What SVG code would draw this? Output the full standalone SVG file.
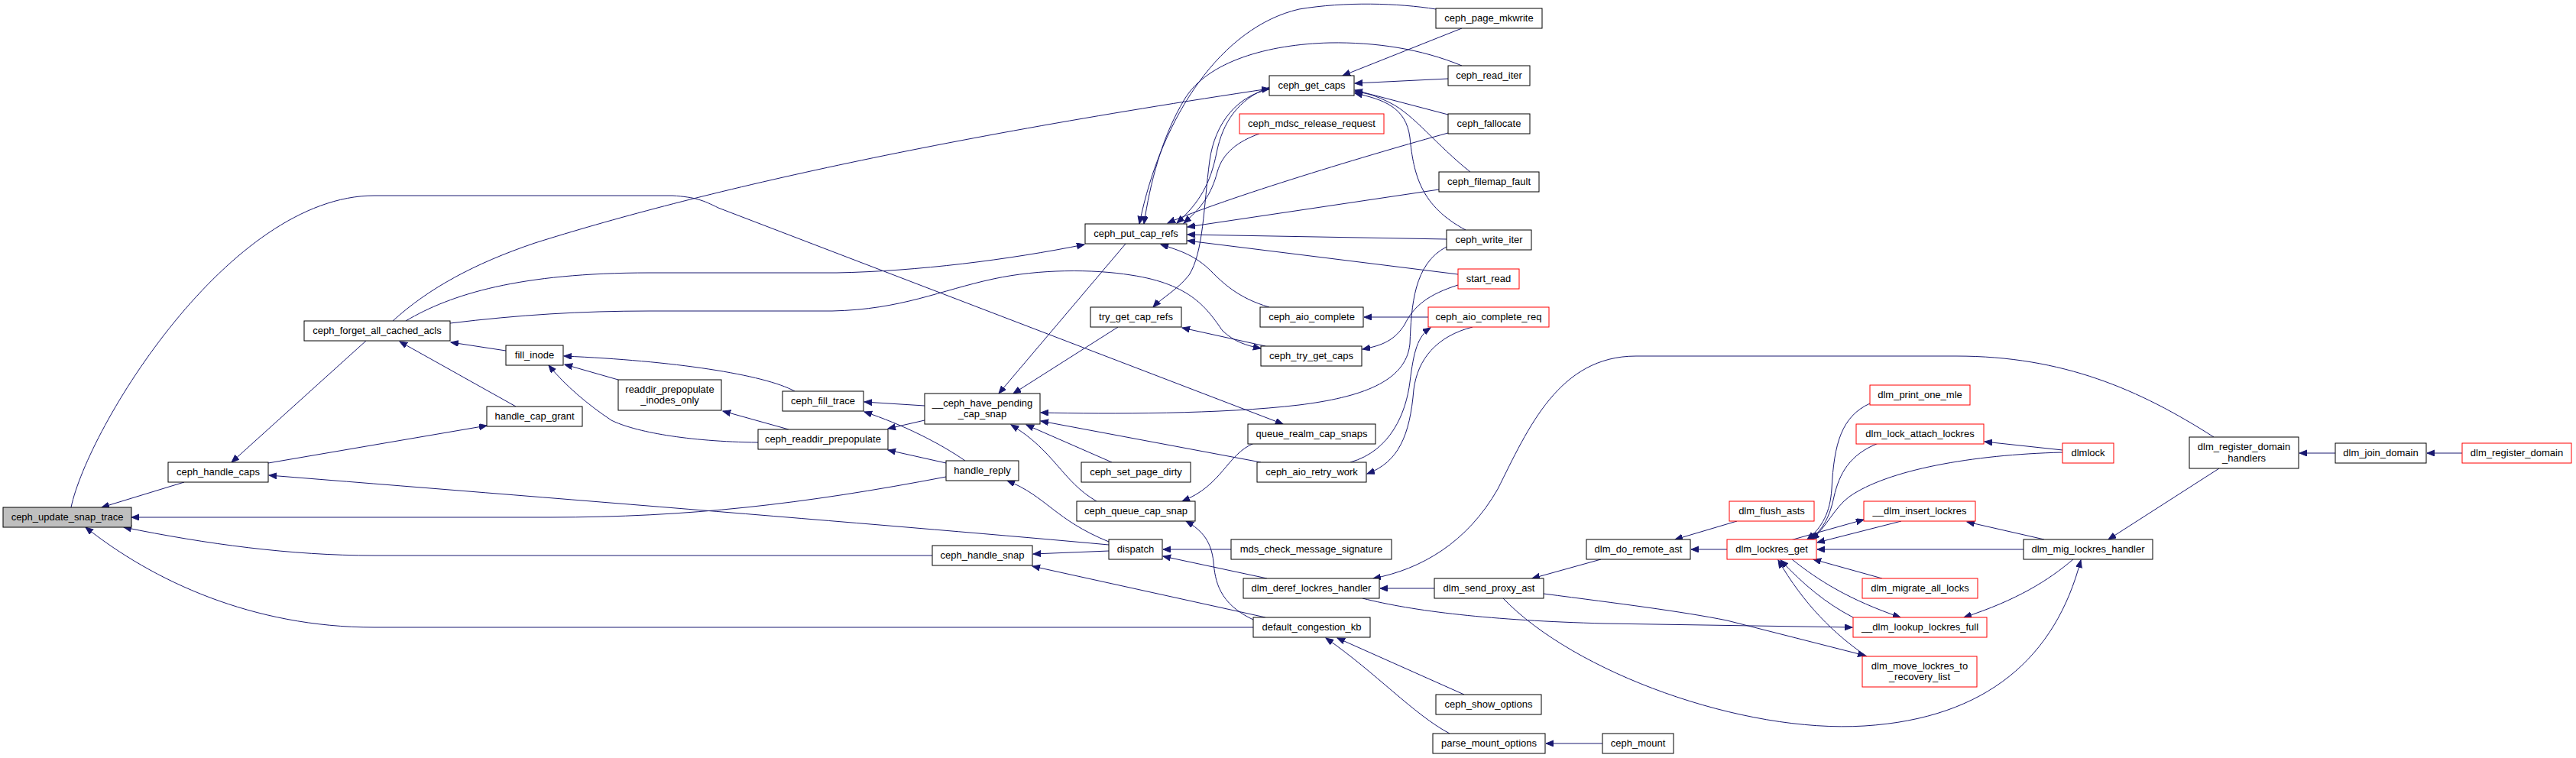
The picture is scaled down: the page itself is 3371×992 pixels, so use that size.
<svg xmlns="http://www.w3.org/2000/svg" width="3371" height="992" viewBox="0 0 3371 992">
<style>
.n rect{fill:#fff;stroke:#000;stroke-width:1}
.n.r rect{stroke:#f00}
.n.m rect{fill:#bfbfbf}
.n text{font-family:"Liberation Sans",Arial,Helvetica,sans-serif;font-size:13px;text-anchor:middle;fill:#000}
#edges path{fill:none;stroke:#191970;stroke-width:1;marker-end:url(#a)}
</style>
<defs>
<marker id="a" markerUnits="userSpaceOnUse" markerWidth="11" markerHeight="9" refX="10" refY="4" orient="auto">
<path d="M0,0 L10,4 L0,8 z" fill="#191970" stroke="#191970" stroke-width="1"/>
</marker>
</defs>
<rect width="3371" height="992" fill="#fff"/>
<g id="edges">
<path d="M241,631 L133,664"/>
<path d="M1238,624 C1050,660 900,677 720,677 L172,677"/>
<path d="M1220,727 L490,727 C380,727 270,712 162,690"/>
<path d="M1640,821 L490,821 C330,821 200,760 112,690"/>
<path d="M93,664 C115,560 300,256 490,256 L880,256 C910,258 920,262 940,272 L1679,555"/>
<path d="M479,446 L303,605"/>
<path d="M351,606 L637,557"/>
<path d="M1451,713 C1200,690 700,650 352,622"/>
<path d="M675,532 L523,447"/>
<path d="M662,459 L590,448"/>
<path d="M1040,512 C1000,490 880,472 738,466"/>
<path d="M809,497 L739,477"/>
<path d="M992,579 C900,578 830,565 800,550 C770,530 740,505 718,478"/>
<path d="M1032,562 L946,538"/>
<path d="M1210,531 L1131,526"/>
<path d="M1263,603 C1230,580 1180,555 1131,539"/>
<path d="M1210,550 L1162,561"/>
<path d="M1238,606 L1162,589"/>
<path d="M1451,709 C1380,680 1370,650 1318,629"/>
<path d="M1451,721 L1352,725"/>
<path d="M1656,808 L1351,741"/>
<path d="M1473,319 L1307,515"/>
<path d="M1463,428 L1326,515"/>
<path d="M1893,323 C1850,345 1847,400 1845,450 C1840,500 1780,520 1700,530 C1600,542 1450,542 1362,540"/>
<path d="M1650,605 L1362,551"/>
<path d="M1435,656 C1390,630 1380,590 1323,556"/>
<path d="M1455,605 L1343,556"/>
<path d="M1641,580 C1605,595 1600,635 1547,656"/>
<path d="M1640,811 C1595,790 1590,760 1588,735 C1585,710 1575,695 1552,682"/>
<path d="M1611,719 L1522,719"/>
<path d="M1658,757 L1522,728"/>
<path d="M514,420 C560,378 620,345 700,318 C900,255 1200,185 1661,116"/>
<path d="M531,420 C590,385 680,357 850,357 L1095,357 C1200,355 1320,340 1419,320"/>
<path d="M589,423 C680,412 760,407 850,407 L1089,407 C1180,405 1230,380 1300,365 C1360,352 1430,352 1480,360 C1560,372 1580,405 1600,433 C1615,447 1630,452 1650,456"/>
<path d="M1879,12 C1830,4 1760,2 1700,12 C1600,35 1520,150 1491,293"/>
<path d="M1913,86 C1860,64 1800,55 1740,56 C1660,58 1580,80 1550,130 C1520,180 1505,240 1497,293"/>
<path d="M1661,114 C1620,130 1600,160 1592,200 C1584,240 1570,265 1540,292"/>
<path d="M1648,175 C1620,185 1600,200 1593,225 C1585,255 1572,272 1549,292"/>
<path d="M1661,117 C1620,125 1590,160 1583,210 C1575,270 1575,330 1556,360 C1540,380 1520,390 1509,402"/>
<path d="M1895,174 C1800,200 1600,260 1528,292"/>
<path d="M1883,248 L1554,297"/>
<path d="M1893,313 L1554,307"/>
<path d="M1908,359 L1554,315"/>
<path d="M1661,402 C1620,390 1600,370 1585,355 C1565,335 1545,328 1519,320"/>
<path d="M1913,37 L1757,99"/>
<path d="M1895,103 L1773,109"/>
<path d="M1895,150 L1773,118"/>
<path d="M1924,225 C1880,190 1850,150 1820,135 C1800,125 1790,122 1773,120"/>
<path d="M1918,301 C1860,270 1850,230 1845,180 C1840,140 1810,130 1773,122"/>
<path d="M1869,415 L1785,415"/>
<path d="M1908,373 C1870,385 1850,400 1838,425 C1825,445 1810,452 1783,457"/>
<path d="M1767,605 C1820,590 1840,540 1845,500 C1850,460 1855,440 1872,429"/>
<path d="M1927,428 C1880,440 1855,470 1850,510 C1845,570 1830,605 1789,620"/>
<path d="M1656,453 L1547,429"/>
<path d="M2897,572 C2800,510 2700,466 2560,466 L2141,466 C2040,466 2000,560 1960,640 C1920,710 1860,745 1797,757"/>
<path d="M1877,770 L1806,770"/>
<path d="M1783,783 C1850,800 1950,812 2100,816 L2424,821"/>
<path d="M1916,909 L1750,835"/>
<path d="M1897,960 C1850,935 1800,880 1735,835"/>
<path d="M2097,973 L2023,973"/>
<path d="M2095,732 L2005,757"/>
<path d="M2020,777 C2120,790 2200,800 2260,812 L2441,858"/>
<path d="M1967,783 C2060,880 2280,960 2440,950 C2600,940 2690,860 2723,733"/>
<path d="M2260,719 L2213,719"/>
<path d="M2273,682 L2192,706"/>
<path d="M2447,528 C2410,545 2400,580 2397,640 C2395,670 2385,690 2365,706"/>
<path d="M2458,580 C2420,595 2407,620 2400,650 C2395,675 2385,695 2368,706"/>
<path d="M2699,592 C2580,595 2470,615 2420,650 C2400,665 2390,690 2371,706"/>
<path d="M2343,707 L2439,680"/>
<path d="M2488,682 L2378,710"/>
<path d="M2648,719 L2378,719"/>
<path d="M2463,757 L2373,732"/>
<path d="M2345,732 C2380,760 2420,785 2487,808"/>
<path d="M2425,808 C2390,790 2360,765 2330,733"/>
<path d="M2443,859 C2400,830 2360,790 2327,733"/>
<path d="M2699,589 L2597,578"/>
<path d="M2675,706 L2574,683"/>
<path d="M2713,732 C2680,760 2640,785 2570,808"/>
<path d="M2904,613 L2759,706"/>
<path d="M3056,593 L3009,593"/>
<path d="M3222,593 L3176,593"/>
</g>
<g id="n_ceph_update_snap_trace" class="n m"><rect x="4" y="664" width="168" height="26"/><text x="88" y="681">ceph_update_snap_trace</text></g>
<g id="n_ceph_handle_caps" class="n"><rect x="220" y="605" width="131" height="26"/><text x="285.5" y="622">ceph_handle_caps</text></g>
<g id="n_handle_cap_grant" class="n"><rect x="637" y="532" width="125" height="26"/><text x="699.5" y="549">handle_cap_grant</text></g>
<g id="n_ceph_forget_all_cached_acls" class="n"><rect x="398" y="420" width="191" height="26"/><text x="493.5" y="437">ceph_forget_all_cached_acls</text></g>
<g id="n_fill_inode" class="n"><rect x="662" y="452" width="75" height="26"/><text x="699.5" y="469">fill_inode</text></g>
<g id="n_readdir_prepopulate_inodes_only" class="n"><rect x="809" y="497" width="135" height="40"/><text x="876.5" y="514">readdir_prepopulate</text><text x="876.5" y="528">_inodes_only</text></g>
<g id="n_ceph_fill_trace" class="n"><rect x="1024" y="512" width="106" height="26"/><text x="1077" y="529">ceph_fill_trace</text></g>
<g id="n_ceph_readdir_prepopulate" class="n"><rect x="992" y="562" width="170" height="26"/><text x="1077" y="579">ceph_readdir_prepopulate</text></g>
<g id="n___ceph_have_pending_cap_snap" class="n"><rect x="1210" y="515" width="151" height="40"/><text x="1285.5" y="532">__ceph_have_pending</text><text x="1285.5" y="546">_cap_snap</text></g>
<g id="n_handle_reply" class="n"><rect x="1238" y="603" width="95" height="26"/><text x="1285.5" y="620">handle_reply</text></g>
<g id="n_ceph_handle_snap" class="n"><rect x="1220" y="714" width="131" height="26"/><text x="1285.5" y="731">ceph_handle_snap</text></g>
<g id="n_ceph_put_cap_refs" class="n"><rect x="1420" y="293" width="133" height="26"/><text x="1486.5" y="310">ceph_put_cap_refs</text></g>
<g id="n_try_get_cap_refs" class="n"><rect x="1427" y="402" width="119" height="26"/><text x="1486.5" y="419">try_get_cap_refs</text></g>
<g id="n_ceph_set_page_dirty" class="n"><rect x="1415" y="605" width="143" height="26"/><text x="1486.5" y="622">ceph_set_page_dirty</text></g>
<g id="n_ceph_queue_cap_snap" class="n"><rect x="1409" y="656" width="155" height="26"/><text x="1486.5" y="673">ceph_queue_cap_snap</text></g>
<g id="n_dispatch" class="n"><rect x="1451" y="706" width="70" height="26"/><text x="1486" y="723">dispatch</text></g>
<g id="n_ceph_get_caps" class="n"><rect x="1661" y="99" width="111" height="26"/><text x="1716.5" y="116">ceph_get_caps</text></g>
<g id="n_ceph_mdsc_release_request" class="n r"><rect x="1622" y="149" width="189" height="26"/><text x="1716.5" y="166">ceph_mdsc_release_request</text></g>
<g id="n_ceph_aio_complete" class="n"><rect x="1649" y="402" width="135" height="26"/><text x="1716.5" y="419">ceph_aio_complete</text></g>
<g id="n_ceph_try_get_caps" class="n"><rect x="1650" y="453" width="132" height="26"/><text x="1716" y="470">ceph_try_get_caps</text></g>
<g id="n_queue_realm_cap_snaps" class="n"><rect x="1633" y="555" width="167" height="26"/><text x="1716.5" y="572">queue_realm_cap_snaps</text></g>
<g id="n_ceph_aio_retry_work" class="n"><rect x="1645" y="605" width="143" height="26"/><text x="1716.5" y="622">ceph_aio_retry_work</text></g>
<g id="n_mds_check_message_signature" class="n"><rect x="1611" y="706" width="210" height="26"/><text x="1716" y="723">mds_check_message_signature</text></g>
<g id="n_dlm_deref_lockres_handler" class="n"><rect x="1627" y="757" width="178" height="26"/><text x="1716" y="774">dlm_deref_lockres_handler</text></g>
<g id="n_default_congestion_kb" class="n"><rect x="1640" y="808" width="153" height="26"/><text x="1716.5" y="825">default_congestion_kb</text></g>
<g id="n_ceph_page_mkwrite" class="n"><rect x="1879" y="11" width="139" height="26"/><text x="1948.5" y="28">ceph_page_mkwrite</text></g>
<g id="n_ceph_read_iter" class="n"><rect x="1895" y="86" width="107" height="26"/><text x="1948.5" y="103">ceph_read_iter</text></g>
<g id="n_ceph_fallocate" class="n"><rect x="1895" y="149" width="107" height="26"/><text x="1948.5" y="166">ceph_fallocate</text></g>
<g id="n_ceph_filemap_fault" class="n"><rect x="1883" y="225" width="131" height="26"/><text x="1948.5" y="242">ceph_filemap_fault</text></g>
<g id="n_ceph_write_iter" class="n"><rect x="1893" y="301" width="111" height="26"/><text x="1948.5" y="318">ceph_write_iter</text></g>
<g id="n_start_read" class="n r"><rect x="1908" y="352" width="80" height="26"/><text x="1948" y="369">start_read</text></g>
<g id="n_ceph_aio_complete_req" class="n r"><rect x="1869" y="402" width="158" height="26"/><text x="1948" y="419">ceph_aio_complete_req</text></g>
<g id="n_ceph_show_options" class="n"><rect x="1879" y="909" width="138" height="26"/><text x="1948" y="926">ceph_show_options</text></g>
<g id="n_parse_mount_options" class="n"><rect x="1875" y="960" width="147" height="26"/><text x="1948.5" y="977">parse_mount_options</text></g>
<g id="n_ceph_mount" class="n"><rect x="2097" y="960" width="93" height="26"/><text x="2143.5" y="977">ceph_mount</text></g>
<g id="n_dlm_send_proxy_ast" class="n"><rect x="1877" y="757" width="143" height="26"/><text x="1948.5" y="774">dlm_send_proxy_ast</text></g>
<g id="n_dlm_do_remote_ast" class="n"><rect x="2076" y="706" width="136" height="26"/><text x="2144" y="723">dlm_do_remote_ast</text></g>
<g id="n_dlm_lockres_get" class="n r"><rect x="2260" y="706" width="117" height="26"/><text x="2318.5" y="723">dlm_lockres_get</text></g>
<g id="n_dlm_flush_asts" class="n r"><rect x="2263" y="656" width="111" height="26"/><text x="2318.5" y="673">dlm_flush_asts</text></g>
<g id="n_dlm_print_one_mle" class="n r"><rect x="2447" y="504" width="131" height="26"/><text x="2512.5" y="521">dlm_print_one_mle</text></g>
<g id="n_dlm_lock_attach_lockres" class="n r"><rect x="2429" y="555" width="167" height="26"/><text x="2512.5" y="572">dlm_lock_attach_lockres</text></g>
<g id="n___dlm_insert_lockres" class="n r"><rect x="2439" y="656" width="146" height="26"/><text x="2512" y="673">__dlm_insert_lockres</text></g>
<g id="n_dlm_migrate_all_locks" class="n r"><rect x="2437" y="757" width="151" height="26"/><text x="2512.5" y="774">dlm_migrate_all_locks</text></g>
<g id="n___dlm_lookup_lockres_full" class="n r"><rect x="2425" y="808" width="175" height="26"/><text x="2512.5" y="825">__dlm_lookup_lockres_full</text></g>
<g id="n_dlm_move_lockres_to_recovery_list" class="n r"><rect x="2437" y="859" width="150" height="40"/><text x="2512" y="876">dlm_move_lockres_to</text><text x="2512" y="890">_recovery_list</text></g>
<g id="n_dlmlock" class="n r"><rect x="2699" y="580" width="67" height="26"/><text x="2732.5" y="597">dlmlock</text></g>
<g id="n_dlm_mig_lockres_handler" class="n"><rect x="2648" y="706" width="169" height="26"/><text x="2732.5" y="723">dlm_mig_lockres_handler</text></g>
<g id="n_dlm_register_domain_handlers" class="n"><rect x="2865" y="572" width="143" height="41"/><text x="2936.5" y="589">dlm_register_domain</text><text x="2936.5" y="604">_handlers</text></g>
<g id="n_dlm_join_domain" class="n"><rect x="3056" y="580" width="119" height="26"/><text x="3115.5" y="597">dlm_join_domain</text></g>
<g id="n_dlm_register_domain" class="n r"><rect x="3222" y="580" width="143" height="26"/><text x="3293.5" y="597">dlm_register_domain</text></g>
</svg>
